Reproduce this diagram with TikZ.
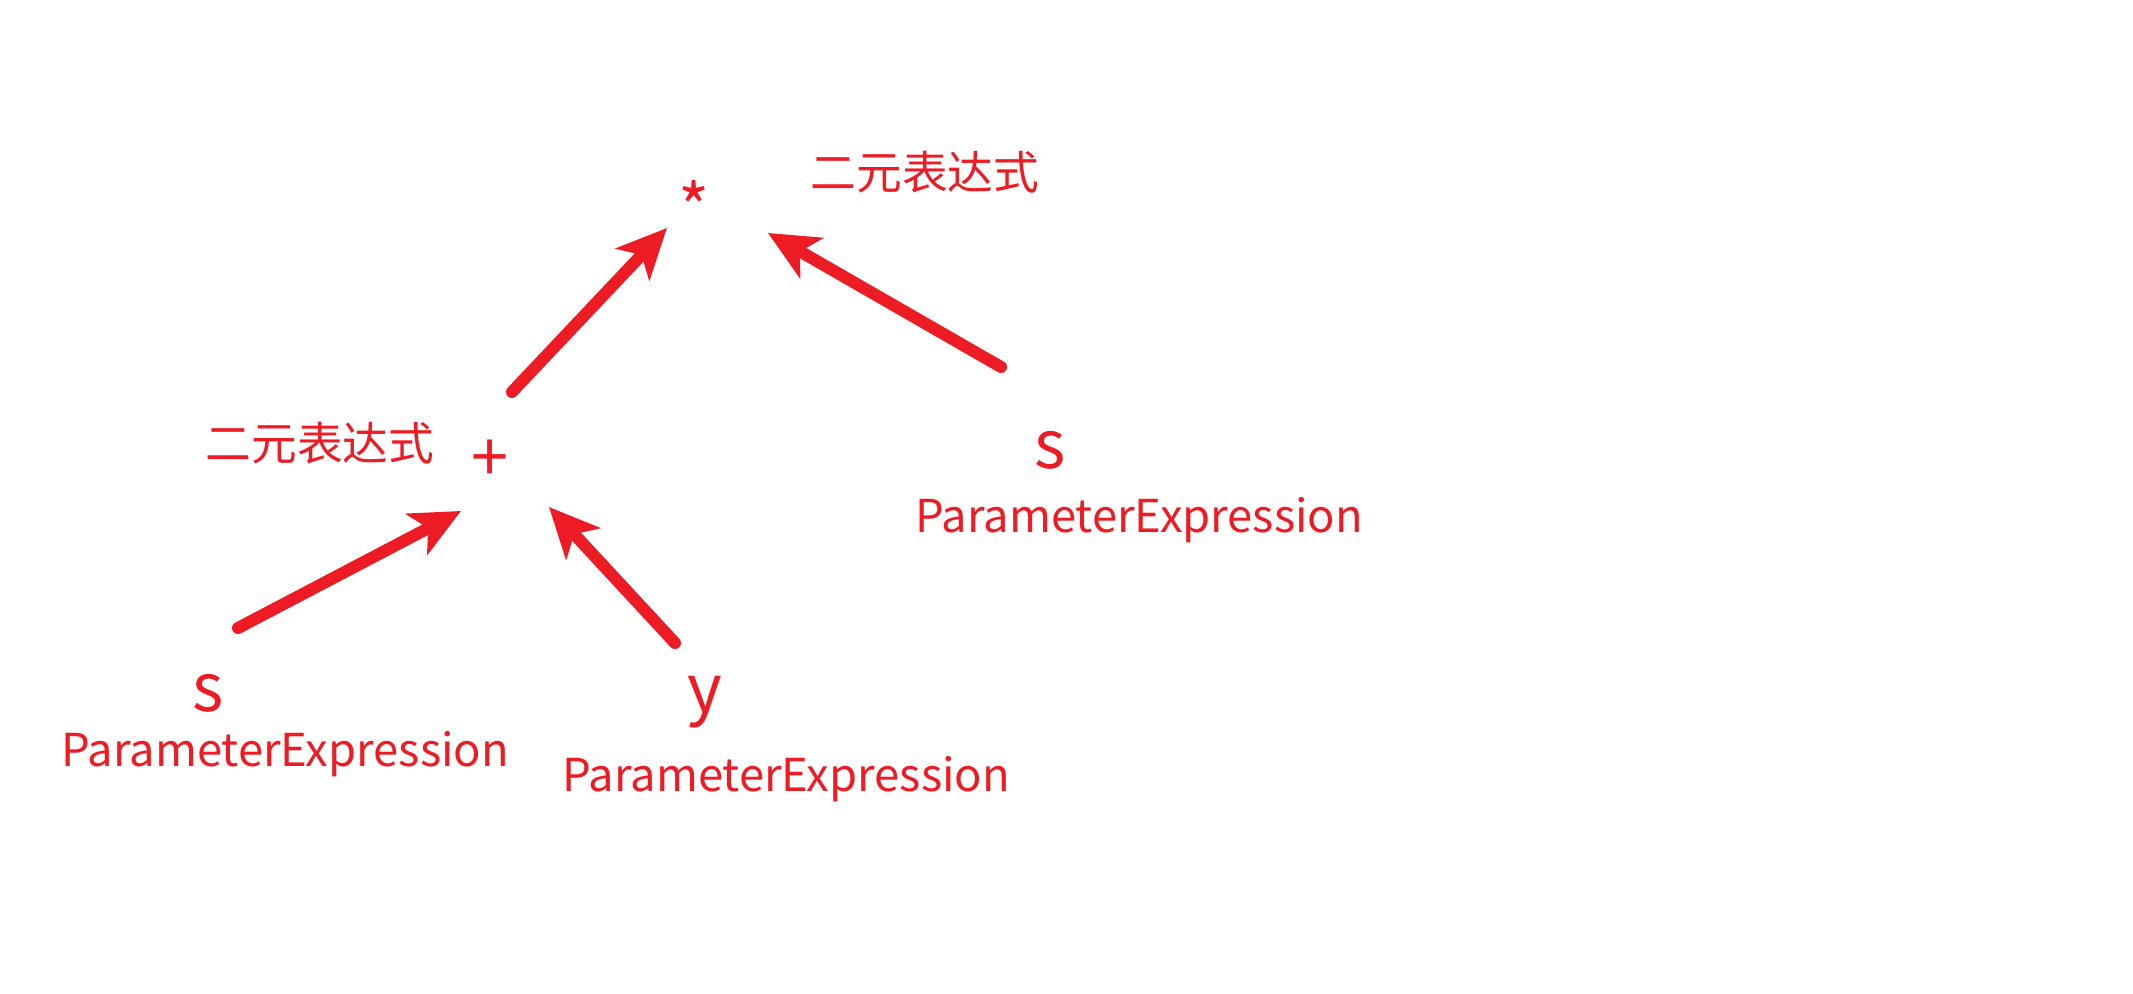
\documentclass[tikz,border=0pt]{standalone}
\usepackage{fontspec}
\setmainfont{Noto Sans CJK SC}
\usepackage{tikz}
\usetikzlibrary{arrows.meta, positioning, calc}
\definecolor{astred}{HTML}{ED1C24}
\tikzset{
    % Operator / leaf symbol
    symnode/.style={
        inner sep=0pt,
        anchor=base,
        text=astred,
        font=\fontsize{19}{22}\selectfont
    },
    % Type label under a leaf
    typelabel/.style={
        inner sep=0pt,
        anchor=base,
        text=astred,
        font=\fontsize{12.9}{15}\selectfont
    },
    % Chinese kind label
    kindlabel/.style={
        inner sep=0pt,
        anchor=base,
        text=astred,
        font=\fontsize{13}{16}\selectfont
    },
    % Arrow style
    astarrow/.style={
        -{Stealth[length=5mm, width=4.6mm, inset=1.3mm]},
        line width=0.12cm,
        line cap=round,
        color=astred
    }
}
\begin{document}
\begin{tikzpicture}
    \useasboundingbox (0,0) rectangle (21.33,-9.94);

    % Root: multiplication
    \node[symnode] (times) at (6.94,-2.34) {*};
    \node[kindlabel] (timeskind) at (9.25,-1.90) {二元表达式};

    % Left child: addition
    \node[symnode] (plus) at (4.90,-4.82) {+};
    \node[kindlabel] (pluskind) at (3.20,-4.61) {二元表达式};

    % Right child of root
    \node[symnode] (sright) at (10.50,-4.69) {s};
    \node[typelabel] (srighttype) at (11.39,-5.33) {ParameterExpression};

    % Children of addition
    \node[symnode] (sleft) at (2.08,-7.12) {s};
    \node[typelabel] (slefttype) at (2.85,-7.67) {ParameterExpression};
    \node[symnode] (yleaf) at (7.05,-7.13) {y};
    \node[typelabel] (yleaftype) at (7.86,-7.92) {ParameterExpression};

    % Arrow ends
    \coordinate (plus-up) at (5.12,-3.92);
    \coordinate (times-in-l) at (6.67,-2.28);
    \coordinate (sright-up) at (10.01,-3.67);
    \coordinate (times-in-r) at (7.68,-2.33);
    \coordinate (sleft-up) at (2.38,-6.28);
    \coordinate (plus-in-l) at (4.61,-5.11);
    \coordinate (yleaf-up) at (6.75,-6.43);
    \coordinate (plus-in-r) at (5.49,-5.07);

    % Arrows
    \draw[astarrow] (plus-up) -- (times-in-l);
    \draw[astarrow] (sright-up) -- (times-in-r);
    \draw[astarrow] (sleft-up) -- (plus-in-l);
    \draw[astarrow] (yleaf-up) -- (plus-in-r);

\end{tikzpicture}
\end{document}
